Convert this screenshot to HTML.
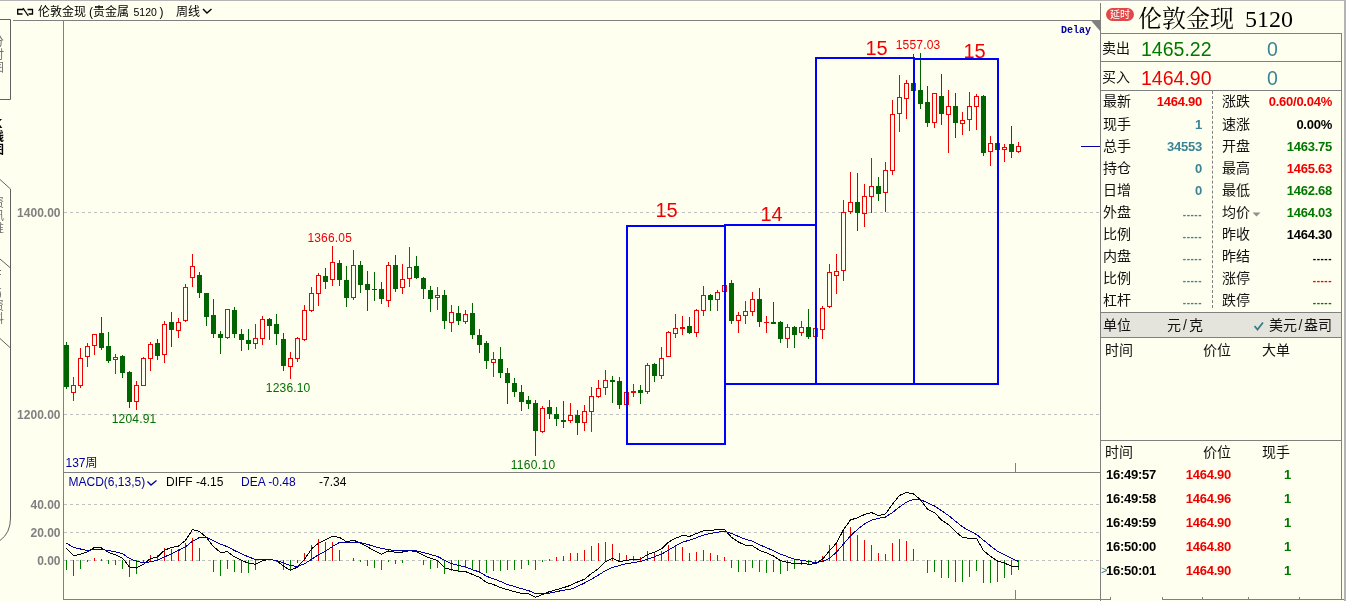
<!DOCTYPE html><html lang="zh"><head><meta charset="utf-8"><title>伦敦金现</title><style>
html,body{margin:0;padding:0;}
body{width:1346px;height:601px;overflow:hidden;background:#fffff0;position:relative;font-family:"Liberation Sans","Noto Sans CJK SC",sans-serif;color:#000;}
.a{position:absolute;white-space:nowrap;}
.ln{position:absolute;background:#808080;}
.lab{position:absolute;font-size:14px;line-height:16px;white-space:nowrap;color:#111;}
.num{position:absolute;font-size:13px;line-height:16px;font-weight:bold;white-space:nowrap;text-align:right;letter-spacing:-0.25px;}
.r{color:#f00000;} .g{color:#007800;} .t{color:#3a8496;} .k{color:#000;}
svg{position:absolute;left:0;top:0;}
</style></head><body>
<div class="ln" style="left:0;top:0;width:1346px;height:1px;background:#b4b4b4"></div>
<div class="ln" style="left:1344px;top:0;width:2px;height:601px;background:#b4b4b4"></div>
<div class="ln" style="left:13px;top:20px;width:1087px;height:1px"></div>
<div class="ln" style="left:63px;top:20px;width:1px;height:580px"></div>
<div class="ln" style="left:63px;top:472px;width:1037px;height:1px"></div>
<div class="ln" style="left:63px;top:599px;width:1048px;height:1px"></div>
<div class="ln" style="left:1162px;top:599px;width:182px;height:1px"></div>
<div class="ln" style="left:1110px;top:597px;width:1px;height:3px"></div>
<div class="ln" style="left:1162px;top:597px;width:1px;height:3px"></div>
<div class="ln" style="left:1202px;top:597px;width:1px;height:3px"></div>
<div class="ln" style="left:1248px;top:597px;width:1px;height:3px"></div>
<div class="ln" style="left:1299px;top:597px;width:1px;height:3px"></div>
<div class="ln" style="left:1100px;top:3px;width:1px;height:598px"></div>
<div class="ln" style="left:1341px;top:33px;width:1px;height:566px"></div>
<div class="ln" style="left:1100px;top:33px;width:242px;height:1px"></div>
<div class="ln" style="left:1100px;top:61px;width:242px;height:1px"></div>
<div class="ln" style="left:1100px;top:90px;width:242px;height:1px"></div>
<div class="ln" style="left:1100px;top:312px;width:242px;height:1px"></div>
<div class="ln" style="left:1100px;top:337px;width:242px;height:1px"></div>
<div class="ln" style="left:1100px;top:440px;width:242px;height:1px"></div>
<div class="a" style="left:1101px;top:313px;width:240px;height:24px;background:#e4e4dc"></div>
<div class="a" style="left:38px;font-size:12px;line-height:14px;color:#000;top:4.5px;">伦敦金现</div>
<div class="a" style="left:89px;font-size:12px;line-height:14px;color:#000;top:4.5px;">(贵金属</div>
<div class="a" style="left:133.5px;font-size:12px;line-height:14px;color:#000;top:4.5px;font-size:10.5px;top:5px">5120</div>
<div class="a" style="left:159.5px;font-size:12px;line-height:14px;color:#000;top:4.5px;">)</div>
<div class="a" style="left:176px;font-size:12px;line-height:14px;color:#000;top:4.5px;">周线</div>
<div class="a" style="left:1106px;top:7.5px;width:28px;height:13px;border-radius:6.5px;background:#e24848;color:#fff;font-size:10px;line-height:13px;text-align:center">延时</div>
<div class="a" style="left:1138px;top:3.6px;font-family:'Liberation Serif','Noto Serif CJK SC',serif;font-size:24px;line-height:30px;color:#000">伦敦金现</div>
<div class="a" style="left:1245px;top:3.6px;font-family:'Liberation Serif','Noto Serif CJK SC',serif;font-size:24px;line-height:30px;color:#000">5120</div>
<div class="a" style="left:1061px;top:23.8px;font-family:'Liberation Mono',monospace;font-weight:bold;font-size:10px;line-height:14px;color:#0000a0">Delay</div>
<div class="lab" style="left:1102px;top:40px;">卖出</div>
<div class="a g" style="left:1141px;top:38px;font-size:19.5px;line-height:22px">1465.22</div>
<div class="a t" style="left:1267px;top:38px;font-size:19.5px;line-height:22px">0</div>
<div class="lab" style="left:1102px;top:69px;">买入</div>
<div class="a r" style="left:1141px;top:67px;font-size:19.5px;line-height:22px">1464.90</div>
<div class="a t" style="left:1267px;top:67px;font-size:19.5px;line-height:22px">0</div>
<div class="lab" style="left:1103px;top:93.4px">最新</div>
<div class="num r" style="left:1140px;width:62px;top:94.4px">1464.90</div>
<div class="lab" style="left:1222px;top:93.4px">涨跌</div>
<div class="num r" style="left:1250px;width:82px;top:94.4px">0.60/0.04%</div>
<div class="lab" style="left:1103px;top:115.5px">现手</div>
<div class="num t" style="left:1140px;width:62px;top:116.5px">1</div>
<div class="lab" style="left:1222px;top:115.5px">速涨</div>
<div class="num k" style="left:1250px;width:82px;top:116.5px">0.00%</div>
<div class="lab" style="left:1103px;top:137.5px">总手</div>
<div class="num t" style="left:1140px;width:62px;top:138.5px">34553</div>
<div class="lab" style="left:1222px;top:137.5px">开盘</div>
<div class="num g" style="left:1250px;width:82px;top:138.5px">1463.75</div>
<div class="lab" style="left:1103px;top:159.6px">持仓</div>
<div class="num t" style="left:1140px;width:62px;top:160.6px">0</div>
<div class="lab" style="left:1222px;top:159.6px">最高</div>
<div class="num r" style="left:1250px;width:82px;top:160.6px">1465.63</div>
<div class="lab" style="left:1103px;top:181.6px">日增</div>
<div class="num t" style="left:1140px;width:62px;top:182.6px">0</div>
<div class="lab" style="left:1222px;top:181.6px">最低</div>
<div class="num g" style="left:1250px;width:82px;top:182.6px">1462.68</div>
<div class="lab" style="left:1103px;top:203.7px">外盘</div>
<div class="num t" style="left:1140px;width:62px;top:204.7px;font-weight:bold;font-size:10px;letter-spacing:0.5px;margin-top:2.2px">-----</div>
<div class="lab" style="left:1222px;top:203.7px">均价</div>
<div class="num g" style="left:1250px;width:82px;top:204.7px">1464.03</div>
<div class="lab" style="left:1103px;top:225.7px">比例</div>
<div class="num t" style="left:1140px;width:62px;top:226.7px;font-weight:bold;font-size:10px;letter-spacing:0.5px;margin-top:2.2px">-----</div>
<div class="lab" style="left:1222px;top:225.7px">昨收</div>
<div class="num k" style="left:1250px;width:82px;top:226.7px">1464.30</div>
<div class="lab" style="left:1103px;top:247.8px">内盘</div>
<div class="num t" style="left:1140px;width:62px;top:248.8px;font-weight:bold;font-size:10px;letter-spacing:0.5px;margin-top:2.2px">-----</div>
<div class="lab" style="left:1222px;top:247.8px">昨结</div>
<div class="num k" style="left:1250px;width:82px;top:248.8px;font-weight:bold;font-size:10px;letter-spacing:0.5px;margin-top:2.2px">-----</div>
<div class="lab" style="left:1103px;top:269.8px">比例</div>
<div class="num t" style="left:1140px;width:62px;top:270.8px;font-weight:bold;font-size:10px;letter-spacing:0.5px;margin-top:2.2px">-----</div>
<div class="lab" style="left:1222px;top:269.8px">涨停</div>
<div class="num r" style="left:1250px;width:82px;top:270.8px;font-weight:bold;font-size:10px;letter-spacing:0.5px;margin-top:2.2px">-----</div>
<div class="lab" style="left:1103px;top:291.9px">杠杆</div>
<div class="num t" style="left:1140px;width:62px;top:292.9px;font-weight:bold;font-size:10px;letter-spacing:0.5px;margin-top:2.2px">-----</div>
<div class="lab" style="left:1222px;top:291.9px">跌停</div>
<div class="num g" style="left:1250px;width:82px;top:292.9px;font-weight:bold;font-size:10px;letter-spacing:0.5px;margin-top:2.2px">-----</div>
<div class="a" style="left:1212px;top:91px;width:0;height:217px;border-left:1px dashed #808080"></div>
<div class="lab" style="left:1103px;top:317px">单位</div>
<div class="lab" style="left:1167px;top:317px">元<span style="margin:0 2px">/</span>克</div>
<div class="lab" style="left:1269px;top:317px">美元<span style="margin:0 1.5px">/</span>盎司</div>
<div class="lab" style="left:1105px;top:342px">时间</div>
<div class="lab" style="left:1203px;top:342px">价位</div>
<div class="lab" style="left:1262px;top:342px">大单</div>
<div class="lab" style="left:1105px;top:444px">时间</div>
<div class="lab" style="left:1203px;top:444px">价位</div>
<div class="lab" style="left:1262px;top:444px">现手</div>
<div class="num k" style="left:1106px;top:466.6px;text-align:left">16:49:57</div>
<div class="num r" style="left:1170px;width:61px;top:466.6px">1464.90</div>
<div class="num g" style="left:1270px;width:21px;top:466.6px">1</div>
<div class="num k" style="left:1106px;top:490.6px;text-align:left">16:49:58</div>
<div class="num r" style="left:1170px;width:61px;top:490.6px">1464.96</div>
<div class="num g" style="left:1270px;width:21px;top:490.6px">1</div>
<div class="num k" style="left:1106px;top:514.6px;text-align:left">16:49:59</div>
<div class="num r" style="left:1170px;width:61px;top:514.6px">1464.90</div>
<div class="num g" style="left:1270px;width:21px;top:514.6px">1</div>
<div class="num k" style="left:1106px;top:538.6px;text-align:left">16:50:00</div>
<div class="num r" style="left:1170px;width:61px;top:538.6px">1464.80</div>
<div class="num g" style="left:1270px;width:21px;top:538.6px">1</div>
<div class="num k" style="left:1106px;top:562.6px;text-align:left">16:50:01</div>
<div class="num r" style="left:1170px;width:61px;top:562.6px">1464.90</div>
<div class="num g" style="left:1270px;width:21px;top:562.6px">1</div>
<div style="position:absolute;left:-8px;width:12px;font-size:12px;line-height:13px;text-align:center;word-break:break-all;white-space:normal;top:36px;color:#707070">分时图</div>
<div style="position:absolute;left:-8px;width:12px;font-size:12px;line-height:13px;text-align:center;word-break:break-all;white-space:normal;top:117.5px;color:#000;font-weight:bold">K线图</div>
<div style="position:absolute;left:-8px;width:12px;font-size:12px;line-height:13px;text-align:center;word-break:break-all;white-space:normal;top:197px;color:#707070">资讯堆</div>
<div style="position:absolute;left:-8px;width:12px;font-size:12px;line-height:13px;text-align:center;word-break:break-all;white-space:normal;top:270px;color:#707070;line-height:10px">F10<span style="line-height:13px">资料</span></div>
<div class="a" style="left:1101px;top:562px;font-size:11px;line-height:16px;color:#3a7c8c">&gt;</div>
<svg width="1346" height="601" viewBox="0 0 1346 601" shape-rendering="crispEdges">
<line x1="64" x2="1100" y1="212.5" y2="212.5" stroke="#c0c0c0" stroke-width="1" stroke-dasharray="3,3"/>
<line x1="64" x2="1100" y1="414.5" y2="414.5" stroke="#c0c0c0" stroke-width="1" stroke-dasharray="3,3"/>
<line x1="64" x2="1100" y1="504.5" y2="504.5" stroke="#c0c0c0" stroke-width="1" stroke-dasharray="3,3"/>
<line x1="64" x2="1100" y1="532.5" y2="532.5" stroke="#c0c0c0" stroke-width="1" stroke-dasharray="3,3"/>
<line x1="64" x2="1100" y1="560.5" y2="560.5" stroke="#c0c0c0" stroke-width="1" stroke-dasharray="3,3"/>
<g id="candles">
<rect x="66" y="342" width="1" height="47" fill="#006400"/>
<rect x="64" y="345" width="5" height="42" fill="#006400"/>
<rect x="73" y="377" width="1" height="8" fill="#f00000"/>
<rect x="73" y="393" width="1" height="8" fill="#f00000"/>
<rect x="71.5" y="385.5" width="4" height="7" fill="none" stroke="#f00000" stroke-width="1"/>
<rect x="80" y="348" width="1" height="10" fill="#f00000"/>
<rect x="80" y="386" width="1" height="2" fill="#f00000"/>
<rect x="78.5" y="358.5" width="4" height="27" fill="none" stroke="#f00000" stroke-width="1"/>
<rect x="87" y="343" width="1" height="3" fill="#f00000"/>
<rect x="87" y="357" width="1" height="10" fill="#f00000"/>
<rect x="85.5" y="346.5" width="4" height="10" fill="none" stroke="#f00000" stroke-width="1"/>
<rect x="94" y="346" width="1" height="9" fill="#f00000"/>
<rect x="92.5" y="334.5" width="4" height="11" fill="none" stroke="#f00000" stroke-width="1"/>
<rect x="101" y="317" width="1" height="33" fill="#006400"/>
<rect x="99" y="333" width="5" height="15" fill="#006400"/>
<rect x="108" y="332" width="1" height="31" fill="#006400"/>
<rect x="106" y="346" width="5" height="15" fill="#006400"/>
<rect x="115" y="354" width="1" height="3" fill="#f00000"/>
<rect x="115" y="360" width="1" height="14" fill="#f00000"/>
<rect x="113.5" y="357.5" width="4" height="2" fill="none" stroke="#f00000" stroke-width="1"/>
<rect x="122" y="355" width="1" height="23" fill="#006400"/>
<rect x="120" y="356" width="5" height="17" fill="#006400"/>
<rect x="129" y="371" width="1" height="37" fill="#006400"/>
<rect x="127" y="372" width="5" height="30" fill="#006400"/>
<rect x="136" y="381" width="1" height="4" fill="#f00000"/>
<rect x="136" y="402" width="1" height="8" fill="#f00000"/>
<rect x="134.5" y="385.5" width="4" height="16" fill="none" stroke="#f00000" stroke-width="1"/>
<rect x="143" y="357" width="1" height="1" fill="#f00000"/>
<rect x="141.5" y="358.5" width="4" height="27" fill="none" stroke="#f00000" stroke-width="1"/>
<rect x="150" y="342" width="1" height="2" fill="#f00000"/>
<rect x="150" y="359" width="1" height="12" fill="#f00000"/>
<rect x="148.5" y="344.5" width="4" height="14" fill="none" stroke="#f00000" stroke-width="1"/>
<rect x="157" y="339" width="1" height="21" fill="#006400"/>
<rect x="155" y="343" width="5" height="13" fill="#006400"/>
<rect x="164" y="321" width="1" height="3" fill="#f00000"/>
<rect x="164" y="355" width="1" height="8" fill="#f00000"/>
<rect x="162.5" y="324.5" width="4" height="30" fill="none" stroke="#f00000" stroke-width="1"/>
<rect x="171" y="312" width="1" height="35" fill="#006400"/>
<rect x="169" y="322" width="5" height="8" fill="#006400"/>
<rect x="178" y="318" width="1" height="4" fill="#f00000"/>
<rect x="178" y="331" width="1" height="7" fill="#f00000"/>
<rect x="176.5" y="322.5" width="4" height="8" fill="none" stroke="#f00000" stroke-width="1"/>
<rect x="185" y="284" width="1" height="3" fill="#f00000"/>
<rect x="185" y="321" width="1" height="1" fill="#f00000"/>
<rect x="183.5" y="287.5" width="4" height="33" fill="none" stroke="#f00000" stroke-width="1"/>
<rect x="192" y="254" width="1" height="12" fill="#f00000"/>
<rect x="192" y="278" width="1" height="9" fill="#f00000"/>
<rect x="190.5" y="266.5" width="4" height="11" fill="none" stroke="#f00000" stroke-width="1"/>
<rect x="199" y="272" width="1" height="26" fill="#006400"/>
<rect x="197" y="275" width="5" height="18" fill="#006400"/>
<rect x="206" y="293" width="1" height="33" fill="#006400"/>
<rect x="204" y="293" width="5" height="24" fill="#006400"/>
<rect x="213" y="299" width="1" height="39" fill="#006400"/>
<rect x="211" y="315" width="5" height="19" fill="#006400"/>
<rect x="220" y="331" width="1" height="23" fill="#006400"/>
<rect x="218" y="334" width="5" height="4" fill="#006400"/>
<rect x="227" y="338" width="1" height="1" fill="#f00000"/>
<rect x="225.5" y="309.5" width="4" height="28" fill="none" stroke="#f00000" stroke-width="1"/>
<rect x="234" y="307" width="1" height="31" fill="#006400"/>
<rect x="232" y="310" width="5" height="24" fill="#006400"/>
<rect x="241" y="329" width="1" height="22" fill="#006400"/>
<rect x="239" y="334" width="5" height="6" fill="#006400"/>
<rect x="248" y="329" width="1" height="21" fill="#006400"/>
<rect x="246" y="340" width="5" height="4" fill="#006400"/>
<rect x="255" y="324" width="1" height="14" fill="#f00000"/>
<rect x="255" y="344" width="1" height="5" fill="#f00000"/>
<rect x="253.5" y="338.5" width="4" height="5" fill="none" stroke="#f00000" stroke-width="1"/>
<rect x="262" y="316" width="1" height="3" fill="#f00000"/>
<rect x="262" y="339" width="1" height="6" fill="#f00000"/>
<rect x="260.5" y="319.5" width="4" height="19" fill="none" stroke="#f00000" stroke-width="1"/>
<rect x="269" y="318" width="1" height="22" fill="#006400"/>
<rect x="267" y="319" width="5" height="7" fill="#006400"/>
<rect x="276" y="314" width="1" height="31" fill="#006400"/>
<rect x="274" y="324" width="5" height="10" fill="#006400"/>
<rect x="283" y="333" width="1" height="38" fill="#006400"/>
<rect x="281" y="339" width="5" height="27" fill="#006400"/>
<rect x="290" y="352" width="1" height="6" fill="#f00000"/>
<rect x="290" y="367" width="1" height="12" fill="#f00000"/>
<rect x="288.5" y="358.5" width="4" height="8" fill="none" stroke="#f00000" stroke-width="1"/>
<rect x="297" y="337" width="1" height="1" fill="#f00000"/>
<rect x="297" y="359" width="1" height="3" fill="#f00000"/>
<rect x="295.5" y="338.5" width="4" height="20" fill="none" stroke="#f00000" stroke-width="1"/>
<rect x="304" y="305" width="1" height="5" fill="#f00000"/>
<rect x="304" y="340" width="1" height="1" fill="#f00000"/>
<rect x="302.5" y="310.5" width="4" height="29" fill="none" stroke="#f00000" stroke-width="1"/>
<rect x="311" y="287" width="1" height="6" fill="#f00000"/>
<rect x="311" y="311" width="1" height="1" fill="#f00000"/>
<rect x="309.5" y="293.5" width="4" height="17" fill="none" stroke="#f00000" stroke-width="1"/>
<rect x="318" y="273" width="1" height="2" fill="#f00000"/>
<rect x="318" y="294" width="1" height="12" fill="#f00000"/>
<rect x="316.5" y="275.5" width="4" height="18" fill="none" stroke="#f00000" stroke-width="1"/>
<rect x="325" y="268" width="1" height="21" fill="#006400"/>
<rect x="323" y="276" width="5" height="6" fill="#006400"/>
<rect x="332" y="246" width="1" height="16" fill="#f00000"/>
<rect x="332" y="280" width="1" height="6" fill="#f00000"/>
<rect x="330.5" y="262.5" width="4" height="17" fill="none" stroke="#f00000" stroke-width="1"/>
<rect x="339" y="260" width="1" height="26" fill="#006400"/>
<rect x="337" y="263" width="5" height="17" fill="#006400"/>
<rect x="346" y="266" width="1" height="41" fill="#006400"/>
<rect x="344" y="280" width="5" height="18" fill="#006400"/>
<rect x="353" y="250" width="1" height="15" fill="#f00000"/>
<rect x="353" y="298" width="1" height="2" fill="#f00000"/>
<rect x="351.5" y="265.5" width="4" height="32" fill="none" stroke="#f00000" stroke-width="1"/>
<rect x="360" y="261" width="1" height="32" fill="#006400"/>
<rect x="358" y="265" width="5" height="20" fill="#006400"/>
<rect x="367" y="271" width="1" height="40" fill="#006400"/>
<rect x="365" y="284" width="5" height="6" fill="#006400"/>
<rect x="374" y="272" width="1" height="29" fill="#006400"/>
<rect x="372" y="289" width="5" height="1" fill="#006400"/>
<rect x="381" y="282" width="1" height="22" fill="#006400"/>
<rect x="379" y="289" width="5" height="10" fill="#006400"/>
<rect x="388" y="262" width="1" height="3" fill="#f00000"/>
<rect x="388" y="301" width="1" height="6" fill="#f00000"/>
<rect x="386.5" y="265.5" width="4" height="35" fill="none" stroke="#f00000" stroke-width="1"/>
<rect x="395" y="255" width="1" height="37" fill="#006400"/>
<rect x="393" y="265" width="5" height="24" fill="#006400"/>
<rect x="402" y="264" width="1" height="15" fill="#f00000"/>
<rect x="402" y="288" width="1" height="6" fill="#f00000"/>
<rect x="400.5" y="279.5" width="4" height="8" fill="none" stroke="#f00000" stroke-width="1"/>
<rect x="409" y="247" width="1" height="20" fill="#f00000"/>
<rect x="409" y="279" width="1" height="8" fill="#f00000"/>
<rect x="407.5" y="267.5" width="4" height="11" fill="none" stroke="#f00000" stroke-width="1"/>
<rect x="416" y="256" width="1" height="23" fill="#006400"/>
<rect x="414" y="266" width="5" height="12" fill="#006400"/>
<rect x="423" y="277" width="1" height="22" fill="#006400"/>
<rect x="421" y="278" width="5" height="11" fill="#006400"/>
<rect x="430" y="286" width="1" height="26" fill="#006400"/>
<rect x="428" y="290" width="5" height="9" fill="#006400"/>
<rect x="437" y="287" width="1" height="8" fill="#f00000"/>
<rect x="437" y="298" width="1" height="12" fill="#f00000"/>
<rect x="435.5" y="295.5" width="4" height="2" fill="none" stroke="#f00000" stroke-width="1"/>
<rect x="444" y="290" width="1" height="39" fill="#006400"/>
<rect x="442" y="295" width="5" height="26" fill="#006400"/>
<rect x="451" y="305" width="1" height="7" fill="#f00000"/>
<rect x="451" y="323" width="1" height="9" fill="#f00000"/>
<rect x="449.5" y="312.5" width="4" height="10" fill="none" stroke="#f00000" stroke-width="1"/>
<rect x="458" y="306" width="1" height="19" fill="#006400"/>
<rect x="456" y="313" width="5" height="8" fill="#006400"/>
<rect x="465" y="310" width="1" height="4" fill="#f00000"/>
<rect x="465" y="322" width="1" height="2" fill="#f00000"/>
<rect x="463.5" y="314.5" width="4" height="7" fill="none" stroke="#f00000" stroke-width="1"/>
<rect x="472" y="303" width="1" height="36" fill="#006400"/>
<rect x="470" y="313" width="5" height="22" fill="#006400"/>
<rect x="479" y="329" width="1" height="24" fill="#006400"/>
<rect x="477" y="335" width="5" height="10" fill="#006400"/>
<rect x="486" y="341" width="1" height="28" fill="#006400"/>
<rect x="484" y="343" width="5" height="18" fill="#006400"/>
<rect x="493" y="352" width="1" height="7" fill="#f00000"/>
<rect x="493" y="363" width="1" height="14" fill="#f00000"/>
<rect x="491.5" y="359.5" width="4" height="3" fill="none" stroke="#f00000" stroke-width="1"/>
<rect x="500" y="347" width="1" height="31" fill="#006400"/>
<rect x="498" y="359" width="5" height="14" fill="#006400"/>
<rect x="507" y="368" width="1" height="36" fill="#006400"/>
<rect x="505" y="373" width="5" height="10" fill="#006400"/>
<rect x="514" y="378" width="1" height="19" fill="#006400"/>
<rect x="512" y="383" width="5" height="9" fill="#006400"/>
<rect x="521" y="385" width="1" height="26" fill="#006400"/>
<rect x="519" y="392" width="5" height="10" fill="#006400"/>
<rect x="528" y="396" width="1" height="13" fill="#006400"/>
<rect x="526" y="400" width="5" height="4" fill="#006400"/>
<rect x="535" y="400" width="1" height="56" fill="#006400"/>
<rect x="533" y="403" width="5" height="28" fill="#006400"/>
<rect x="542" y="406" width="1" height="2" fill="#f00000"/>
<rect x="542" y="432" width="1" height="1" fill="#f00000"/>
<rect x="540.5" y="408.5" width="4" height="23" fill="none" stroke="#f00000" stroke-width="1"/>
<rect x="549" y="400" width="1" height="19" fill="#006400"/>
<rect x="547" y="407" width="5" height="7" fill="#006400"/>
<rect x="556" y="407" width="1" height="19" fill="#006400"/>
<rect x="554" y="414" width="5" height="5" fill="#006400"/>
<rect x="563" y="401" width="1" height="27" fill="#006400"/>
<rect x="561" y="420" width="5" height="2" fill="#006400"/>
<rect x="570" y="403" width="1" height="12" fill="#f00000"/>
<rect x="570" y="421" width="1" height="2" fill="#f00000"/>
<rect x="568.5" y="415.5" width="4" height="5" fill="none" stroke="#f00000" stroke-width="1"/>
<rect x="577" y="410" width="1" height="25" fill="#006400"/>
<rect x="575" y="415" width="5" height="8" fill="#006400"/>
<rect x="584" y="405" width="1" height="6" fill="#f00000"/>
<rect x="584" y="423" width="1" height="8" fill="#f00000"/>
<rect x="582.5" y="411.5" width="4" height="11" fill="none" stroke="#f00000" stroke-width="1"/>
<rect x="591" y="387" width="1" height="9" fill="#f00000"/>
<rect x="591" y="412" width="1" height="20" fill="#f00000"/>
<rect x="589.5" y="396.5" width="4" height="15" fill="none" stroke="#f00000" stroke-width="1"/>
<rect x="598" y="380" width="1" height="8" fill="#f00000"/>
<rect x="598" y="397" width="1" height="1" fill="#f00000"/>
<rect x="596.5" y="388.5" width="4" height="8" fill="none" stroke="#f00000" stroke-width="1"/>
<rect x="605" y="370" width="1" height="10" fill="#f00000"/>
<rect x="605" y="388" width="1" height="7" fill="#f00000"/>
<rect x="603.5" y="380.5" width="4" height="7" fill="none" stroke="#f00000" stroke-width="1"/>
<rect x="612" y="376" width="1" height="27" fill="#006400"/>
<rect x="610" y="380" width="5" height="2" fill="#006400"/>
<rect x="619" y="377" width="1" height="32" fill="#006400"/>
<rect x="617" y="381" width="5" height="24" fill="#006400"/>
<rect x="624.5" y="392.5" width="4" height="12" fill="none" stroke="#f00000" stroke-width="1"/>
<rect x="633" y="384" width="1" height="7" fill="#f00000"/>
<rect x="633" y="393" width="1" height="4" fill="#f00000"/>
<rect x="631" y="391" width="5" height="2" fill="#f00000"/>
<rect x="640" y="385" width="1" height="19" fill="#006400"/>
<rect x="638" y="390" width="5" height="3" fill="#006400"/>
<rect x="647" y="363" width="1" height="2" fill="#f00000"/>
<rect x="647" y="392" width="1" height="2" fill="#f00000"/>
<rect x="645.5" y="365.5" width="4" height="26" fill="none" stroke="#f00000" stroke-width="1"/>
<rect x="654" y="363" width="1" height="19" fill="#006400"/>
<rect x="652" y="364" width="5" height="12" fill="#006400"/>
<rect x="661" y="347" width="1" height="11" fill="#f00000"/>
<rect x="661" y="376" width="1" height="3" fill="#f00000"/>
<rect x="659.5" y="358.5" width="4" height="17" fill="none" stroke="#f00000" stroke-width="1"/>
<rect x="668" y="331" width="1" height="1" fill="#f00000"/>
<rect x="666.5" y="332.5" width="4" height="24" fill="none" stroke="#f00000" stroke-width="1"/>
<rect x="675" y="314" width="1" height="14" fill="#f00000"/>
<rect x="675" y="334" width="1" height="4" fill="#f00000"/>
<rect x="673.5" y="328.5" width="4" height="5" fill="none" stroke="#f00000" stroke-width="1"/>
<rect x="682" y="316" width="1" height="11" fill="#f00000"/>
<rect x="682" y="329" width="1" height="6" fill="#f00000"/>
<rect x="680" y="327" width="5" height="2" fill="#f00000"/>
<rect x="689" y="317" width="1" height="17" fill="#006400"/>
<rect x="687" y="326" width="5" height="7" fill="#006400"/>
<rect x="696" y="309" width="1" height="1" fill="#f00000"/>
<rect x="696" y="333" width="1" height="4" fill="#f00000"/>
<rect x="694.5" y="310.5" width="4" height="22" fill="none" stroke="#f00000" stroke-width="1"/>
<rect x="703" y="286" width="1" height="9" fill="#f00000"/>
<rect x="703" y="311" width="1" height="5" fill="#f00000"/>
<rect x="701.5" y="295.5" width="4" height="15" fill="none" stroke="#f00000" stroke-width="1"/>
<rect x="710" y="294" width="1" height="17" fill="#006400"/>
<rect x="708" y="295" width="5" height="5" fill="#006400"/>
<rect x="717" y="290" width="1" height="2" fill="#f00000"/>
<rect x="717" y="300" width="1" height="11" fill="#f00000"/>
<rect x="715.5" y="292.5" width="4" height="7" fill="none" stroke="#f00000" stroke-width="1"/>
<rect x="722.5" y="285.5" width="4" height="6" fill="none" stroke="#f00000" stroke-width="1"/>
<rect x="731" y="280" width="1" height="44" fill="#006400"/>
<rect x="729" y="283" width="5" height="38" fill="#006400"/>
<rect x="738" y="312" width="1" height="3" fill="#f00000"/>
<rect x="738" y="321" width="1" height="12" fill="#f00000"/>
<rect x="736.5" y="315.5" width="4" height="5" fill="none" stroke="#f00000" stroke-width="1"/>
<rect x="745" y="301" width="1" height="10" fill="#f00000"/>
<rect x="745" y="316" width="1" height="8" fill="#f00000"/>
<rect x="743.5" y="311.5" width="4" height="4" fill="none" stroke="#f00000" stroke-width="1"/>
<rect x="752" y="292" width="1" height="7" fill="#f00000"/>
<rect x="752" y="312" width="1" height="4" fill="#f00000"/>
<rect x="750.5" y="299.5" width="4" height="12" fill="none" stroke="#f00000" stroke-width="1"/>
<rect x="759" y="288" width="1" height="39" fill="#006400"/>
<rect x="757" y="299" width="5" height="23" fill="#006400"/>
<rect x="766" y="316" width="1" height="6" fill="#f00000"/>
<rect x="766" y="323" width="1" height="10" fill="#f00000"/>
<rect x="764" y="322" width="5" height="1" fill="#f00000"/>
<rect x="773" y="302" width="1" height="22" fill="#006400"/>
<rect x="771" y="322" width="5" height="2" fill="#006400"/>
<rect x="780" y="321" width="1" height="22" fill="#006400"/>
<rect x="778" y="322" width="5" height="17" fill="#006400"/>
<rect x="787" y="324" width="1" height="3" fill="#f00000"/>
<rect x="787" y="339" width="1" height="9" fill="#f00000"/>
<rect x="785.5" y="327.5" width="4" height="11" fill="none" stroke="#f00000" stroke-width="1"/>
<rect x="794" y="326" width="1" height="22" fill="#006400"/>
<rect x="792" y="327" width="5" height="8" fill="#006400"/>
<rect x="801" y="321" width="1" height="6" fill="#f00000"/>
<rect x="801" y="333" width="1" height="3" fill="#f00000"/>
<rect x="799.5" y="327.5" width="4" height="5" fill="none" stroke="#f00000" stroke-width="1"/>
<rect x="808" y="309" width="1" height="30" fill="#006400"/>
<rect x="806" y="327" width="5" height="10" fill="#006400"/>
<rect x="813.5" y="328.5" width="4" height="8" fill="none" stroke="#f00000" stroke-width="1"/>
<rect x="822" y="306" width="1" height="2" fill="#f00000"/>
<rect x="822" y="330" width="1" height="9" fill="#f00000"/>
<rect x="820.5" y="308.5" width="4" height="21" fill="none" stroke="#f00000" stroke-width="1"/>
<rect x="829" y="264" width="1" height="8" fill="#f00000"/>
<rect x="829" y="307" width="1" height="1" fill="#f00000"/>
<rect x="827.5" y="272.5" width="4" height="34" fill="none" stroke="#f00000" stroke-width="1"/>
<rect x="836" y="254" width="1" height="17" fill="#f00000"/>
<rect x="836" y="276" width="1" height="18" fill="#f00000"/>
<rect x="834.5" y="271.5" width="4" height="4" fill="none" stroke="#f00000" stroke-width="1"/>
<rect x="843" y="200" width="1" height="12" fill="#f00000"/>
<rect x="843" y="271" width="1" height="10" fill="#f00000"/>
<rect x="841.5" y="212.5" width="4" height="58" fill="none" stroke="#f00000" stroke-width="1"/>
<rect x="850" y="172" width="1" height="30" fill="#f00000"/>
<rect x="850" y="212" width="1" height="2" fill="#f00000"/>
<rect x="848.5" y="202.5" width="4" height="9" fill="none" stroke="#f00000" stroke-width="1"/>
<rect x="857" y="173" width="1" height="58" fill="#006400"/>
<rect x="855" y="202" width="5" height="11" fill="#006400"/>
<rect x="864" y="184" width="1" height="12" fill="#f00000"/>
<rect x="864" y="214" width="1" height="13" fill="#f00000"/>
<rect x="862.5" y="196.5" width="4" height="17" fill="none" stroke="#f00000" stroke-width="1"/>
<rect x="871" y="158" width="1" height="28" fill="#f00000"/>
<rect x="871" y="197" width="1" height="16" fill="#f00000"/>
<rect x="869.5" y="186.5" width="4" height="10" fill="none" stroke="#f00000" stroke-width="1"/>
<rect x="878" y="177" width="1" height="24" fill="#006400"/>
<rect x="876" y="186" width="5" height="8" fill="#006400"/>
<rect x="885" y="162" width="1" height="8" fill="#f00000"/>
<rect x="885" y="193" width="1" height="19" fill="#f00000"/>
<rect x="883.5" y="170.5" width="4" height="22" fill="none" stroke="#f00000" stroke-width="1"/>
<rect x="892" y="100" width="1" height="14" fill="#f00000"/>
<rect x="892" y="171" width="1" height="4" fill="#f00000"/>
<rect x="890.5" y="114.5" width="4" height="56" fill="none" stroke="#f00000" stroke-width="1"/>
<rect x="899" y="75" width="1" height="22" fill="#f00000"/>
<rect x="899" y="114" width="1" height="18" fill="#f00000"/>
<rect x="897.5" y="97.5" width="4" height="16" fill="none" stroke="#f00000" stroke-width="1"/>
<rect x="906" y="80" width="1" height="3" fill="#f00000"/>
<rect x="906" y="99" width="1" height="20" fill="#f00000"/>
<rect x="904.5" y="83.5" width="4" height="15" fill="none" stroke="#f00000" stroke-width="1"/>
<rect x="913" y="54" width="1" height="37" fill="#006400"/>
<rect x="911" y="83" width="5" height="8" fill="#006400"/>
<rect x="920" y="53" width="1" height="56" fill="#006400"/>
<rect x="918" y="90" width="5" height="14" fill="#006400"/>
<rect x="927" y="86" width="1" height="41" fill="#006400"/>
<rect x="925" y="102" width="5" height="21" fill="#006400"/>
<rect x="934" y="123" width="1" height="5" fill="#f00000"/>
<rect x="932.5" y="93.5" width="4" height="29" fill="none" stroke="#f00000" stroke-width="1"/>
<rect x="941" y="74" width="1" height="51" fill="#006400"/>
<rect x="939" y="96" width="5" height="18" fill="#006400"/>
<rect x="948" y="90" width="1" height="16" fill="#f00000"/>
<rect x="948" y="115" width="1" height="38" fill="#f00000"/>
<rect x="946.5" y="106.5" width="4" height="8" fill="none" stroke="#f00000" stroke-width="1"/>
<rect x="955" y="93" width="1" height="45" fill="#006400"/>
<rect x="953" y="106" width="5" height="17" fill="#006400"/>
<rect x="962" y="112" width="1" height="8" fill="#f00000"/>
<rect x="962" y="124" width="1" height="11" fill="#f00000"/>
<rect x="960.5" y="120.5" width="4" height="3" fill="none" stroke="#f00000" stroke-width="1"/>
<rect x="969" y="92" width="1" height="14" fill="#f00000"/>
<rect x="969" y="120" width="1" height="11" fill="#f00000"/>
<rect x="967.5" y="106.5" width="4" height="13" fill="none" stroke="#f00000" stroke-width="1"/>
<rect x="976" y="94" width="1" height="2" fill="#f00000"/>
<rect x="976" y="107" width="1" height="23" fill="#f00000"/>
<rect x="974.5" y="96.5" width="4" height="10" fill="none" stroke="#f00000" stroke-width="1"/>
<rect x="983" y="95" width="1" height="61" fill="#006400"/>
<rect x="981" y="96" width="5" height="57" fill="#006400"/>
<rect x="990" y="136" width="1" height="7" fill="#f00000"/>
<rect x="990" y="152" width="1" height="14" fill="#f00000"/>
<rect x="988.5" y="143.5" width="4" height="8" fill="none" stroke="#f00000" stroke-width="1"/>
<rect x="997" y="143" width="1" height="7" fill="#006400"/>
<rect x="995" y="143" width="5" height="7" fill="#006400"/>
<rect x="1004" y="144" width="1" height="3" fill="#f00000"/>
<rect x="1004" y="150" width="1" height="12" fill="#f00000"/>
<rect x="1002.5" y="147.5" width="4" height="2" fill="none" stroke="#f00000" stroke-width="1"/>
<rect x="1011" y="126" width="1" height="32" fill="#006400"/>
<rect x="1009" y="144" width="5" height="8" fill="#006400"/>
<rect x="1018" y="142" width="1" height="4" fill="#f00000"/>
<rect x="1018" y="152" width="1" height="1" fill="#f00000"/>
<rect x="1016.5" y="146.5" width="4" height="5" fill="none" stroke="#f00000" stroke-width="1"/>
</g>
<g id="macd">
<rect x="66" y="560" width="1" height="10" fill="#008000"/>
<rect x="73" y="560" width="1" height="16" fill="#008000"/>
<rect x="80" y="560" width="1" height="9" fill="#008000"/>
<rect x="87" y="560" width="1" height="2" fill="#008000"/>
<rect x="94" y="558" width="1" height="3" fill="#f00000"/>
<rect x="101" y="559" width="1" height="2" fill="#f00000"/>
<rect x="108" y="560" width="1" height="4" fill="#008000"/>
<rect x="115" y="560" width="1" height="5" fill="#008000"/>
<rect x="122" y="560" width="1" height="9" fill="#008000"/>
<rect x="129" y="560" width="1" height="17" fill="#008000"/>
<rect x="136" y="560" width="1" height="14" fill="#008000"/>
<rect x="143" y="560" width="1" height="3" fill="#008000"/>
<rect x="150" y="555" width="1" height="6" fill="#f00000"/>
<rect x="157" y="555" width="1" height="6" fill="#f00000"/>
<rect x="164" y="548" width="1" height="13" fill="#f00000"/>
<rect x="171" y="549" width="1" height="12" fill="#f00000"/>
<rect x="178" y="549" width="1" height="12" fill="#f00000"/>
<rect x="185" y="543" width="1" height="18" fill="#f00000"/>
<rect x="192" y="538" width="1" height="23" fill="#f00000"/>
<rect x="199" y="548" width="1" height="13" fill="#f00000"/>
<rect x="213" y="560" width="1" height="12" fill="#008000"/>
<rect x="220" y="560" width="1" height="16" fill="#008000"/>
<rect x="227" y="560" width="1" height="9" fill="#008000"/>
<rect x="234" y="560" width="1" height="12" fill="#008000"/>
<rect x="241" y="560" width="1" height="13" fill="#008000"/>
<rect x="248" y="560" width="1" height="13" fill="#008000"/>
<rect x="255" y="560" width="1" height="10" fill="#008000"/>
<rect x="276" y="560" width="1" height="2" fill="#008000"/>
<rect x="283" y="560" width="1" height="10" fill="#008000"/>
<rect x="290" y="560" width="1" height="11" fill="#008000"/>
<rect x="297" y="560" width="1" height="3" fill="#008000"/>
<rect x="304" y="553" width="1" height="8" fill="#f00000"/>
<rect x="311" y="545" width="1" height="16" fill="#f00000"/>
<rect x="318" y="539" width="1" height="22" fill="#f00000"/>
<rect x="325" y="542" width="1" height="19" fill="#f00000"/>
<rect x="332" y="542" width="1" height="19" fill="#f00000"/>
<rect x="339" y="550" width="1" height="11" fill="#f00000"/>
<rect x="353" y="558" width="1" height="3" fill="#f00000"/>
<rect x="360" y="560" width="1" height="2" fill="#008000"/>
<rect x="367" y="560" width="1" height="6" fill="#008000"/>
<rect x="374" y="560" width="1" height="8" fill="#008000"/>
<rect x="381" y="560" width="1" height="10" fill="#008000"/>
<rect x="388" y="560" width="1" height="2" fill="#008000"/>
<rect x="395" y="560" width="1" height="4" fill="#008000"/>
<rect x="402" y="560" width="1" height="3" fill="#008000"/>
<rect x="423" y="560" width="1" height="5" fill="#008000"/>
<rect x="430" y="560" width="1" height="9" fill="#008000"/>
<rect x="437" y="560" width="1" height="8" fill="#008000"/>
<rect x="444" y="560" width="1" height="14" fill="#008000"/>
<rect x="451" y="560" width="1" height="11" fill="#008000"/>
<rect x="458" y="560" width="1" height="11" fill="#008000"/>
<rect x="465" y="560" width="1" height="8" fill="#008000"/>
<rect x="472" y="560" width="1" height="9" fill="#008000"/>
<rect x="479" y="560" width="1" height="11" fill="#008000"/>
<rect x="486" y="560" width="1" height="13" fill="#008000"/>
<rect x="493" y="560" width="1" height="11" fill="#008000"/>
<rect x="500" y="560" width="1" height="11" fill="#008000"/>
<rect x="507" y="560" width="1" height="10" fill="#008000"/>
<rect x="514" y="560" width="1" height="10" fill="#008000"/>
<rect x="521" y="560" width="1" height="9" fill="#008000"/>
<rect x="528" y="560" width="1" height="5" fill="#008000"/>
<rect x="535" y="560" width="1" height="10" fill="#008000"/>
<rect x="542" y="560" width="1" height="2" fill="#008000"/>
<rect x="549" y="559" width="1" height="2" fill="#f00000"/>
<rect x="556" y="557" width="1" height="4" fill="#f00000"/>
<rect x="563" y="556" width="1" height="5" fill="#f00000"/>
<rect x="570" y="553" width="1" height="8" fill="#f00000"/>
<rect x="577" y="553" width="1" height="8" fill="#f00000"/>
<rect x="584" y="550" width="1" height="11" fill="#f00000"/>
<rect x="591" y="546" width="1" height="15" fill="#f00000"/>
<rect x="598" y="543" width="1" height="18" fill="#f00000"/>
<rect x="605" y="542" width="1" height="19" fill="#f00000"/>
<rect x="612" y="544" width="1" height="17" fill="#f00000"/>
<rect x="619" y="553" width="1" height="8" fill="#f00000"/>
<rect x="626" y="555" width="1" height="6" fill="#f00000"/>
<rect x="633" y="556" width="1" height="5" fill="#f00000"/>
<rect x="640" y="557" width="1" height="4" fill="#f00000"/>
<rect x="647" y="551" width="1" height="10" fill="#f00000"/>
<rect x="654" y="553" width="1" height="8" fill="#f00000"/>
<rect x="661" y="551" width="1" height="10" fill="#f00000"/>
<rect x="668" y="545" width="1" height="16" fill="#f00000"/>
<rect x="675" y="545" width="1" height="16" fill="#f00000"/>
<rect x="682" y="547" width="1" height="14" fill="#f00000"/>
<rect x="689" y="553" width="1" height="8" fill="#f00000"/>
<rect x="696" y="552" width="1" height="9" fill="#f00000"/>
<rect x="703" y="550" width="1" height="11" fill="#f00000"/>
<rect x="710" y="553" width="1" height="8" fill="#f00000"/>
<rect x="717" y="555" width="1" height="6" fill="#f00000"/>
<rect x="724" y="557" width="1" height="4" fill="#f00000"/>
<rect x="731" y="560" width="1" height="8" fill="#008000"/>
<rect x="738" y="560" width="1" height="12" fill="#008000"/>
<rect x="745" y="560" width="1" height="12" fill="#008000"/>
<rect x="752" y="560" width="1" height="8" fill="#008000"/>
<rect x="759" y="560" width="1" height="12" fill="#008000"/>
<rect x="766" y="560" width="1" height="13" fill="#008000"/>
<rect x="773" y="560" width="1" height="12" fill="#008000"/>
<rect x="780" y="560" width="1" height="14" fill="#008000"/>
<rect x="787" y="560" width="1" height="11" fill="#008000"/>
<rect x="794" y="560" width="1" height="9" fill="#008000"/>
<rect x="801" y="560" width="1" height="5" fill="#008000"/>
<rect x="808" y="560" width="1" height="4" fill="#008000"/>
<rect x="815" y="560" width="1" height="2" fill="#008000"/>
<rect x="822" y="556" width="1" height="5" fill="#f00000"/>
<rect x="829" y="545" width="1" height="16" fill="#f00000"/>
<rect x="836" y="542" width="1" height="19" fill="#f00000"/>
<rect x="843" y="529" width="1" height="32" fill="#f00000"/>
<rect x="850" y="527" width="1" height="34" fill="#f00000"/>
<rect x="857" y="535" width="1" height="26" fill="#f00000"/>
<rect x="864" y="540" width="1" height="21" fill="#f00000"/>
<rect x="871" y="545" width="1" height="16" fill="#f00000"/>
<rect x="878" y="553" width="1" height="8" fill="#f00000"/>
<rect x="885" y="554" width="1" height="7" fill="#f00000"/>
<rect x="892" y="543" width="1" height="18" fill="#f00000"/>
<rect x="899" y="539" width="1" height="22" fill="#f00000"/>
<rect x="906" y="541" width="1" height="20" fill="#f00000"/>
<rect x="913" y="549" width="1" height="12" fill="#f00000"/>
<rect x="927" y="560" width="1" height="13" fill="#008000"/>
<rect x="934" y="560" width="1" height="12" fill="#008000"/>
<rect x="941" y="560" width="1" height="18" fill="#008000"/>
<rect x="948" y="560" width="1" height="18" fill="#008000"/>
<rect x="955" y="560" width="1" height="22" fill="#008000"/>
<rect x="962" y="560" width="1" height="22" fill="#008000"/>
<rect x="969" y="560" width="1" height="17" fill="#008000"/>
<rect x="976" y="560" width="1" height="11" fill="#008000"/>
<rect x="983" y="560" width="1" height="23" fill="#008000"/>
<rect x="990" y="560" width="1" height="23" fill="#008000"/>
<rect x="997" y="560" width="1" height="22" fill="#008000"/>
<rect x="1004" y="560" width="1" height="18" fill="#008000"/>
<rect x="1011" y="560" width="1" height="15" fill="#008000"/>
<rect x="1018" y="560" width="1" height="10" fill="#008000"/>
</g>
<polyline points="66.5,548.4 73.5,555.6 80.5,554.3 87.5,551.8 94.5,547.4 101.5,548.0 108.5,552.4 115.5,554.7 122.5,558.1 129.5,567.0 136.5,568.0 143.5,564.2 150.5,558.5 157.5,556.9 164.5,550.3 171.5,547.4 178.5,546.1 185.5,540.4 192.5,529.6 199.5,531.5 206.5,537.5 213.5,546.7 220.5,552.4 227.5,551.8 234.5,556.9 241.5,560.4 248.5,563.2 255.5,564.2 262.5,560.7 269.5,559.4 276.5,560.7 283.5,566.1 290.5,570.4 297.5,567.0 304.5,559.4 311.5,549.0 318.5,543.1 325.5,539.8 332.5,536.4 339.5,537.4 346.5,541.7 353.5,540.2 360.5,543.1 367.5,546.9 374.5,550.7 381.5,554.1 388.5,551.0 395.5,552.2 402.5,552.2 409.5,550.7 416.5,551.6 423.5,555.4 430.5,558.3 437.5,560.6 444.5,567.8 451.5,569.7 458.5,571.2 465.5,571.6 472.5,574.4 479.5,577.3 486.5,582.6 493.5,584.5 500.5,587.7 507.5,589.7 514.5,591.6 521.5,593.5 528.5,593.8 535.5,597.3 542.5,594.4 549.5,591.6 556.5,589.7 563.5,587.7 570.5,585.3 577.5,582.0 584.5,579.2 591.5,573.5 598.5,568.7 605.5,561.7 612.5,558.3 619.5,561.5 626.5,560.6 633.5,559.2 640.5,559.2 647.5,554.5 654.5,552.2 661.5,548.8 668.5,542.1 675.5,538.3 682.5,535.4 689.5,536.4 696.5,533.5 703.5,530.7 710.5,530.7 717.5,529.4 724.5,529.4 731.5,537.4 738.5,542.1 745.5,545.3 752.5,545.9 759.5,550.3 766.5,552.9 773.5,556.0 780.5,560.6 787.5,562.5 794.5,563.4 801.5,563.0 808.5,564.4 815.5,563.6 822.5,559.2 829.5,550.7 836.5,543.1 843.5,529.7 850.5,519.9 857.5,517.8 864.5,514.5 871.5,512.6 878.5,515.5 885.5,514.0 892.5,504.1 899.5,495.5 906.5,492.3 913.5,494.0 920.5,499.7 927.5,509.2 934.5,512.6 941.5,519.9 948.5,524.6 955.5,531.6 962.5,537.4 969.5,538.3 976.5,538.3 983.5,550.7 990.5,556.4 997.5,561.1 1004.5,563.0 1011.5,566.4 1018.5,566.4" fill="none" stroke="#000" stroke-width="1"/>
<polyline points="66.5,543.2 73.5,547.4 80.5,549.0 87.5,550.5 94.5,549.5 101.5,549.5 108.5,550.5 115.5,551.8 122.5,553.7 129.5,558.5 136.5,561.3 143.5,562.8 150.5,561.7 157.5,560.4 164.5,556.9 171.5,553.7 178.5,550.5 185.5,546.7 192.5,541.3 199.5,537.5 206.5,537.5 213.5,540.8 220.5,544.2 227.5,546.7 234.5,550.5 241.5,553.7 248.5,556.9 255.5,559.4 262.5,559.4 269.5,559.4 276.5,560.7 283.5,562.8 290.5,565.7 297.5,566.4 304.5,563.8 311.5,559.4 318.5,554.8 325.5,551.2 332.5,546.5 339.5,542.5 346.5,542.1 353.5,542.1 360.5,542.5 367.5,544.4 374.5,546.5 381.5,548.4 388.5,549.7 395.5,550.7 402.5,551.0 409.5,550.3 416.5,551.0 423.5,552.6 430.5,554.5 437.5,556.4 444.5,560.2 451.5,563.6 458.5,565.5 465.5,566.8 472.5,569.7 479.5,572.0 486.5,576.3 493.5,578.8 500.5,581.5 507.5,584.5 514.5,586.4 521.5,588.7 528.5,590.6 535.5,593.5 542.5,593.8 549.5,593.1 556.5,591.6 563.5,590.2 570.5,589.3 577.5,586.4 584.5,583.0 591.5,579.2 598.5,575.0 605.5,570.6 612.5,567.4 619.5,565.5 626.5,563.6 633.5,562.6 640.5,561.5 647.5,559.2 654.5,556.7 661.5,554.1 668.5,550.1 675.5,545.9 682.5,542.1 689.5,540.2 696.5,537.7 703.5,535.1 710.5,533.5 717.5,532.2 724.5,531.3 731.5,533.5 738.5,536.4 745.5,539.3 752.5,541.2 759.5,544.6 766.5,547.8 773.5,550.7 780.5,554.1 787.5,556.7 794.5,559.2 801.5,560.2 808.5,561.5 815.5,562.5 822.5,561.5 829.5,558.3 836.5,552.2 843.5,544.0 850.5,535.8 857.5,529.4 864.5,524.0 871.5,520.2 878.5,518.3 885.5,517.0 892.5,512.6 899.5,506.9 906.5,502.2 913.5,499.3 920.5,499.7 927.5,502.7 934.5,506.0 941.5,510.7 948.5,515.5 955.5,521.2 962.5,526.9 969.5,530.7 976.5,534.5 983.5,540.2 990.5,545.9 997.5,551.2 1004.5,554.8 1011.5,558.3 1018.5,561.5" fill="none" stroke="#0000a0" stroke-width="1"/>
<rect x="627.0" y="226.0" width="98.0" height="218.0" fill="none" stroke="#0000ff" stroke-width="2"/>
<rect x="725.0" y="225.0" width="91.0" height="159.0" fill="none" stroke="#0000ff" stroke-width="2"/>
<rect x="816.0" y="58.0" width="98.0" height="326.0" fill="none" stroke="#0000ff" stroke-width="2"/>
<rect x="914.0" y="59.0" width="84.0" height="325.0" fill="none" stroke="#0000ff" stroke-width="2"/>
<text x="655.5" y="216.5" font-size="20" fill="#f00000" text-anchor="start" font-family="Liberation Sans, sans-serif" shape-rendering="auto" >15</text>
<text x="760.5" y="220.8" font-size="20" fill="#f00000" text-anchor="start" font-family="Liberation Sans, sans-serif" shape-rendering="auto" >14</text>
<text x="865.5" y="55.0" font-size="20" fill="#f00000" text-anchor="start" font-family="Liberation Sans, sans-serif" shape-rendering="auto" >15</text>
<text x="963.5" y="57.8" font-size="20" fill="#f00000" text-anchor="start" font-family="Liberation Sans, sans-serif" shape-rendering="auto" >15</text>
<text x="895.7" y="49.2" font-size="12" fill="#f00000" text-anchor="start" font-family="Liberation Sans, sans-serif" shape-rendering="auto" textLength="44.5" lengthAdjust="spacing">1557.03</text>
<text x="307.4" y="241.6" font-size="12" fill="#f00000" text-anchor="start" font-family="Liberation Sans, sans-serif" shape-rendering="auto" textLength="44.5" lengthAdjust="spacing">1366.05</text>
<text x="111.7" y="422.7" font-size="12" fill="#007000" text-anchor="start" font-family="Liberation Sans, sans-serif" shape-rendering="auto" textLength="44.5" lengthAdjust="spacing">1204.91</text>
<text x="265.8" y="392.0" font-size="12" fill="#007000" text-anchor="start" font-family="Liberation Sans, sans-serif" shape-rendering="auto" textLength="44.5" lengthAdjust="spacing">1236.10</text>
<text x="510.7" y="468.6" font-size="12" fill="#007000" text-anchor="start" font-family="Liberation Sans, sans-serif" shape-rendering="auto" textLength="44.5" lengthAdjust="spacing">1160.10</text>
<text x="60.5" y="216.7" font-size="12" fill="#808080" text-anchor="end" font-family="Liberation Sans, sans-serif" shape-rendering="auto" font-weight="bold">1400.00</text>
<text x="60.5" y="418.7" font-size="12" fill="#808080" text-anchor="end" font-family="Liberation Sans, sans-serif" shape-rendering="auto" font-weight="bold">1200.00</text>
<text x="60.5" y="508.7" font-size="12" fill="#808080" text-anchor="end" font-family="Liberation Sans, sans-serif" shape-rendering="auto" font-weight="bold">40.00</text>
<text x="60.5" y="536.6" font-size="12" fill="#808080" text-anchor="end" font-family="Liberation Sans, sans-serif" shape-rendering="auto" font-weight="bold">20.00</text>
<text x="60.5" y="564.5" font-size="12" fill="#808080" text-anchor="end" font-family="Liberation Sans, sans-serif" shape-rendering="auto" font-weight="bold">0.00</text>
<text x="65.5" y="467" font-size="12" fill="#0000a0" font-family="Liberation Sans, Noto Sans CJK SC, sans-serif" shape-rendering="auto">137周</text>
<text x="68.5" y="485.8" font-size="12" fill="#0000a0" text-anchor="start" font-family="Liberation Sans, sans-serif" shape-rendering="auto" >MACD(6,13,5)</text>
<text x="166.0" y="486.0" font-size="12" fill="#000" text-anchor="start" font-family="Liberation Sans, sans-serif" shape-rendering="auto" >DIFF -4.15</text>
<text x="241.0" y="486.0" font-size="12" fill="#0000a0" text-anchor="start" font-family="Liberation Sans, sans-serif" shape-rendering="auto" >DEA -0.48</text>
<text x="319.0" y="486.0" font-size="12" fill="#000" text-anchor="start" font-family="Liberation Sans, sans-serif" shape-rendering="auto" >-7.34</text>
<rect x="1015" y="463" width="1" height="9" fill="#808080"/>
<rect x="1015" y="590" width="1" height="9" fill="#808080"/>
<rect x="1081" y="146" width="19" height="1" fill="#0000a0"/>
<g shape-rendering="auto" fill="none" stroke="#000" stroke-width="1.3"><path d="M23.5,9.5 H17.7 V14 H22.5"/><path d="M23,8 L28.3,16"/><path d="M27.5,9.5 H32.5 V14 H28.5"/></g>
<path d="M203,9 L207,13 L211.5,9" fill="none" stroke="#000" stroke-width="1.4" shape-rendering="auto"/>
<path d="M147.5,481.5 L151,485 L156.5,480.5" fill="none" stroke="#0000a0" stroke-width="1.3" shape-rendering="auto"/>
<path d="M1091,20.5 H1100 V31 Z" fill="#808080" shape-rendering="auto"/>
<path d="M1254.5,326 L1257.5,329.5 L1263,322.5" fill="none" stroke="#3a7c8c" stroke-width="1.8" shape-rendering="auto"/>
<path d="M1252.5,212.5 H1260.5 L1256.5,216.5 Z" fill="#909090" shape-rendering="auto"/>
<g shape-rendering="auto" fill="none" stroke="#606060" stroke-width="1"><path d="M0,19.5 H10.5 V99.5 H0"/><path d="M0,179.5 L10.5,189 V518 Q10.5,533 0,540.5"/><path d="M0,259 L10.5,268"/><path d="M0,338.5 L10.5,348"/></g>
</svg>
</body></html>
